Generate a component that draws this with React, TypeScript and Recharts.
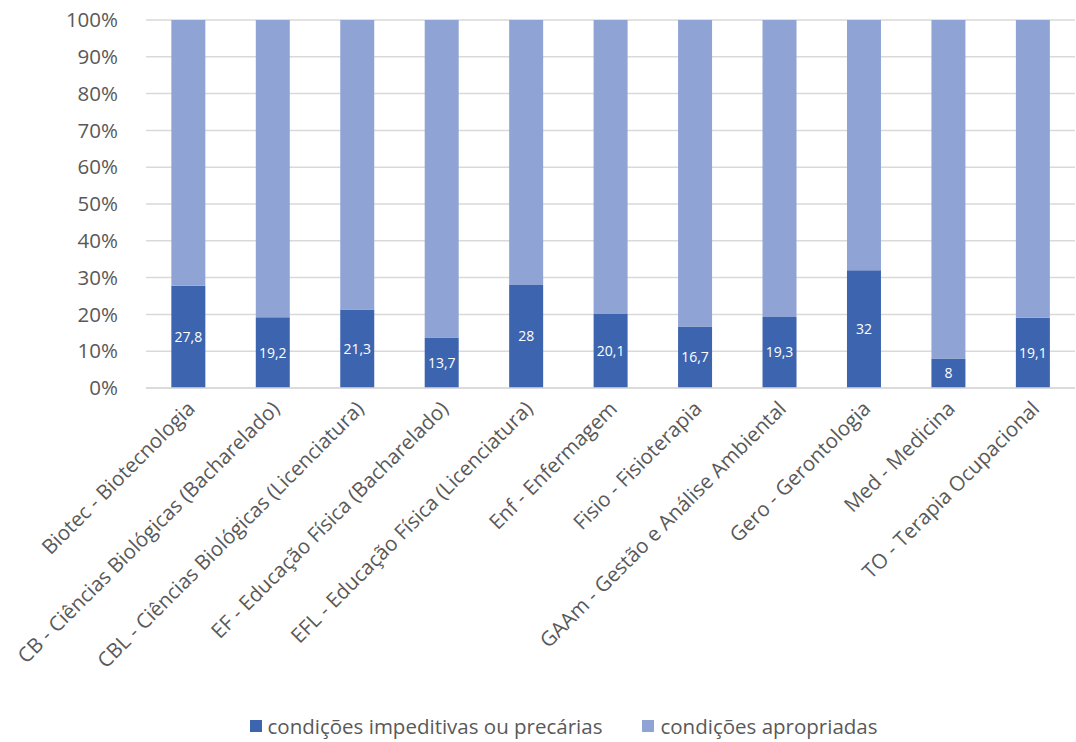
import React from "react";
import {
  BarChart,
  Bar,
  CartesianGrid,
  XAxis,
  YAxis,
  Legend,
  LabelList,
} from "recharts";

const cursos = [
  "Biotec - Biotecnologia",
  "CB - Ciências Biológicas (Bacharelado)",
  "CBL - Ciências Biológicas (Licenciatura)",
  "EF - Educação Física (Bacharelado)",
  "EFL - Educação Física (Licenciatura)",
  "Enf - Enfermagem",
  "Fisio - Fisioterapia",
  "GAAm - Gestão e Análise Ambiental",
  "Gero - Gerontologia",
  "Med - Medicina",
  "TO - Terapia Ocupacional",
];
const precarias = [27.8, 19.2, 21.3, 13.7, 28, 20.1, 16.7, 19.3, 32, 8, 19.1];
const apropriadas = [72.2, 80.8, 78.7, 86.3, 72, 79.9, 83.3, 80.7, 68, 92, 80.9];
const yTicks = [0, 10, 20, 30, 40, 50, 60, 70, 80, 90, 100];

const data = cursos.map((curso, i) => ({
  curso,
  precarias: precarias[i],
  apropriadas: apropriadas[i],
}));

const FONT = "'Open Sans', sans-serif";
const DARK = "#3D64AE";
const LIGHT = "#8FA4D5";
const TEXT = "#595959";

const CursoTick = ({ x, y, payload }: any) => (
  <text
    x={x + 8}
    y={y + 14}
    transform={`rotate(-45, ${x + 8}, ${y + 14})`}
    textAnchor="end"
    fill={TEXT}
    fontSize={20.5}
    fontFamily={FONT}
  >
    {payload.value}
  </text>
);

const LegendBox = () => (
  <div
    style={{
      display: "flex",
      justifyContent: "center",
      gap: 40,
      fontFamily: FONT,
      fontSize: 20.5,
      color: TEXT,
      paddingLeft: 52,
    }}
  >
    <span style={{ display: "flex", alignItems: "center" }}>
      <span style={{ width: 12, height: 12, background: DARK, marginRight: 6 }} />
      condições impeditivas ou precárias
    </span>
    <span style={{ display: "flex", alignItems: "center" }}>
      <span style={{ width: 12, height: 12, background: LIGHT, marginRight: 6 }} />
      condições apropriadas
    </span>
  </div>
);

export default function App() {
  return (
    <div style={{ position: "absolute", left: 0, top: 0, background: "#fff" }}>
      <BarChart
        width={1076}
        height={742}
        data={data}
        margin={{ top: 20, right: 1, bottom: 0, left: 0 }}
        barCategoryGap="30%"
      >
        <CartesianGrid vertical={false} stroke="#D9D9D9" strokeWidth={1.5} />
        <XAxis
          dataKey="curso"
          interval={0}
          height={326}
          tick={<CursoTick />}
          tickLine={false}
          axisLine={{ stroke: "#D9D9D9", strokeWidth: 1.5 }}
        />
        <YAxis
          width={146}
          domain={[0, 100]}
          ticks={yTicks}
          tickFormatter={(v: number) => `${v}%`}
          tick={{ fill: TEXT, fontSize: 20.5, fontFamily: FONT }}
          tickLine={false}
          axisLine={false}
          tickMargin={22}
        />
        <Legend
          verticalAlign="bottom"
          content={<LegendBox />}
          wrapperStyle={{ bottom: 2 }}
        />
        <Bar
          dataKey="precarias"
          stackId="a"
          fill={DARK}
          isAnimationActive={false}
        >
          <LabelList
            dataKey="precarias"
            position="center"
            fill="#FFFFFF"
            fontSize={14}
            fontFamily={FONT}
            formatter={(v: any) => String(v).replace(".", ",")}
          />
        </Bar>
        <Bar
          dataKey="apropriadas"
          stackId="a"
          fill={LIGHT}
          isAnimationActive={false}
        />
      </BarChart>
    </div>
  );
}
